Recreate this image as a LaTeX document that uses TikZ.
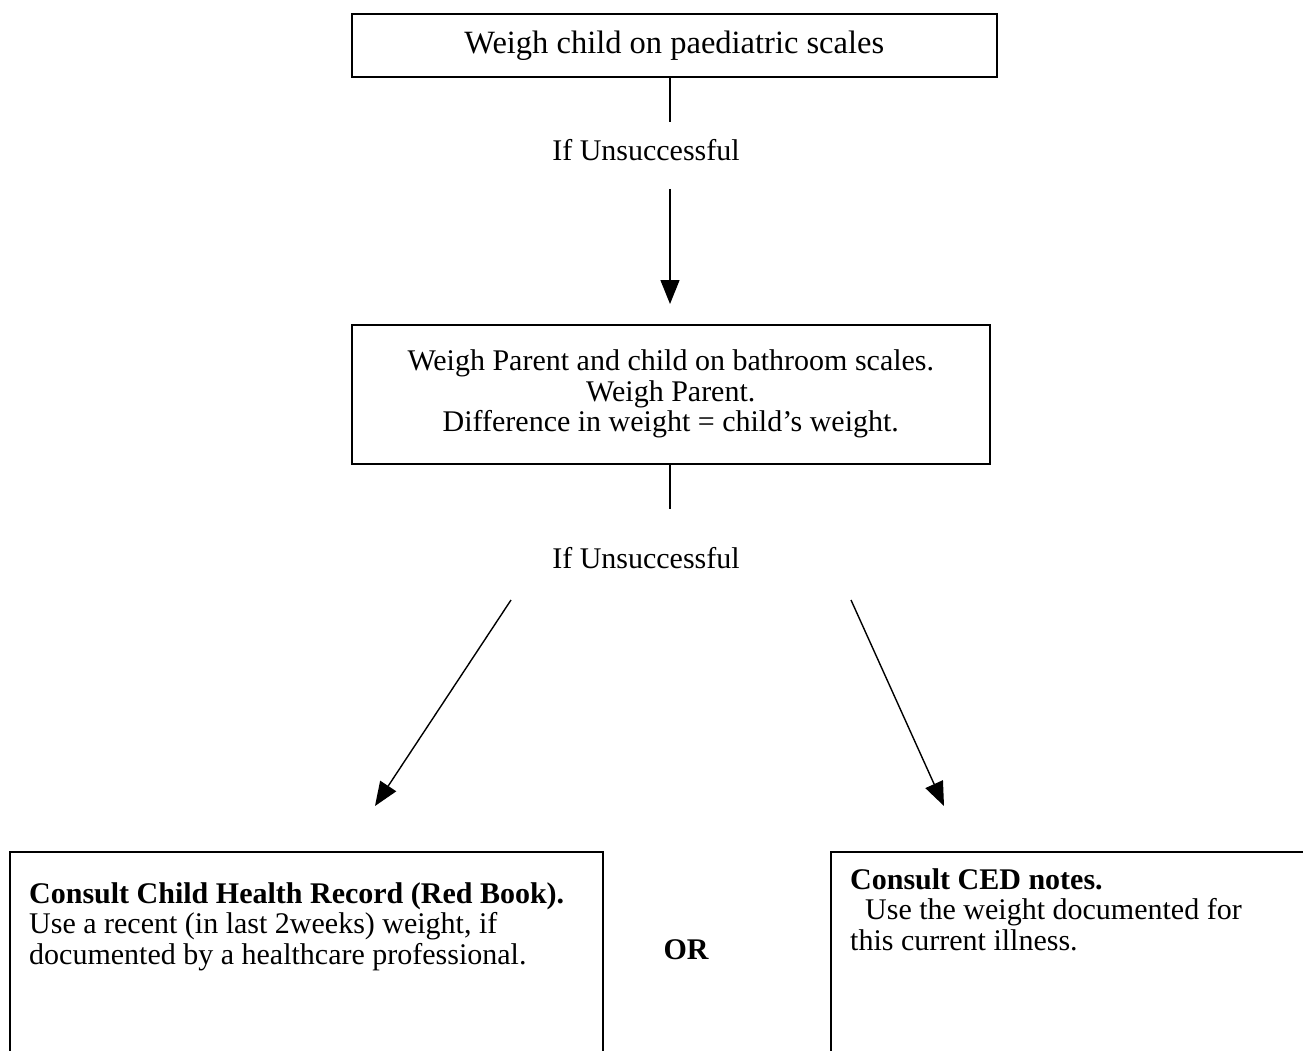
\documentclass[tikz,border=0pt]{standalone}
\usepackage{fontspec}
\setmainfont{Liberation Serif}
\usetikzlibrary{arrows.meta}
\begin{document}
\begin{tikzpicture}[x=1pt,y=-1pt,
  box/.style={draw, line width=1.6pt, inner sep=0pt, anchor=north west, align=center,
    font=\fontsize{30}{30.5}\selectfont},
  lbl/.style={font=\fontsize{30}{30.5}\selectfont, inner sep=0pt},
  conn/.style={line width=1.4pt},
  arr/.style={line width=1.4pt, -{Triangle[length=24pt,width=19pt]}}]
\path[use as bounding box, clip] (0,0) rectangle (1303,1051);
% top box
\node[box, minimum width=645pt, minimum height=63pt, font=\fontsize{32.5}{34}\selectfont] (b1) at (351,13) {Weigh child on paediatric scales};
\coordinate (l1end) at (670,122);
\draw[conn] (b1.south -| l1end) -- (l1end);
\node[lbl] (u1) at (646,150) {If Unsuccessful};
\coordinate (a1s) at (670,189);
% middle box
\node[box, minimum width=638pt, minimum height=139pt] (b2) at (351,324)
  {Weigh Parent and child on bathroom scales.\\Weigh Parent.\\Difference in weight = child’s weight.};
\draw[arr, shorten >=20pt] (a1s) -- (b2.north -| a1s);
\coordinate (l2end) at (670,509);
\draw[conn] (b2.south -| l2end) -- (l2end);
\node[lbl] (u2) at (646,558) {If Unsuccessful};
% diagonal arrows
\coordinate (dls) at (511,600);
\coordinate (dle) at (375,806);
\coordinate (drs) at (851,600);
\coordinate (dre) at (944,806);
\draw[arr] (dls) -- (dle);
\draw[arr] (drs) -- (dre);
% bottom boxes
\node[box, minimum width=593pt, minimum height=300pt] (b3) at (9,851) {};
\node[lbl, anchor=north west, align=left] (t3) at (29,882)
  {\textbf{Consult Child Health Record (Red Book).}\\Use a recent (in last 2weeks) weight, if\\documented by a healthcare professional.};
\node[lbl, font=\fontsize{30}{30.5}\selectfont\bfseries] (or) at (686,950) {OR};
\node[box, minimum width=600pt, minimum height=300pt] (b4) at (830,851) {};
\node[lbl, anchor=north west, align=left] (t4) at (850,868)
  {\textbf{Consult CED notes.}\\\hspace*{15pt}Use the weight documented for\\this current illness.};
\end{tikzpicture}
\end{document}
